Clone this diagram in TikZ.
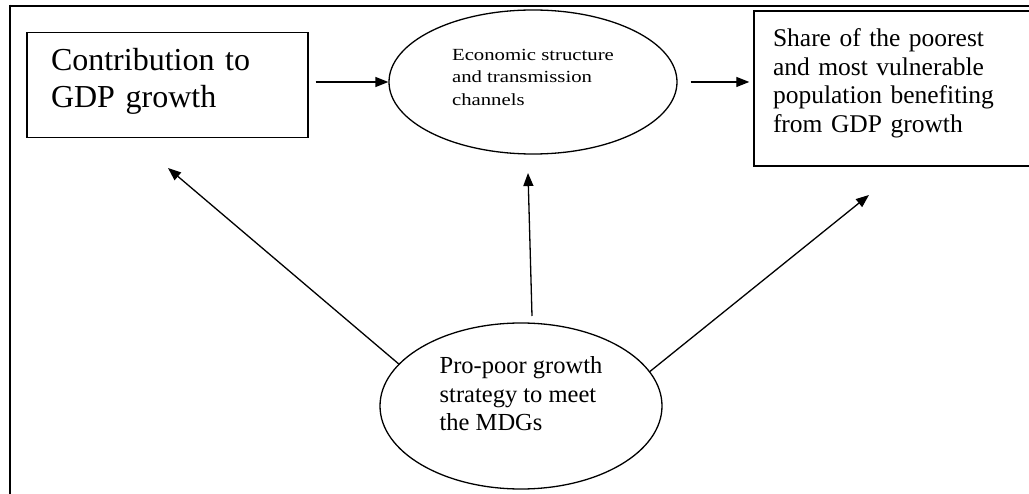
\documentclass[tikz,border=0pt]{standalone}
\usepackage{fontspec}
\setmainfont{Liberation Serif}
\newfontfamily\wideserif[FakeStretch=1.22]{Liberation Serif}
\usetikzlibrary{shapes.geometric,arrows.meta}
\begin{document}
\begin{tikzpicture}[x=1pt,y=-1pt,
  boxnode/.style={draw,line width=1.4pt,rectangle,inner ysep=0pt,align=left},
  ellnode/.style={draw,line width=1.3pt,ellipse,inner sep=0pt,align=left},
  arr/.style={line width=1.3pt,-{Triangle[length=13pt,width=10pt]}},
  frameline/.style={line width=2.8pt}]
\useasboundingbox (0,0) rectangle (1029,494);
\begin{scope}
\clip (0,0) rectangle (1029,494);
% frame
\draw[frameline] (9,6) -- (1040,6);
\draw[frameline] (10,4.6) -- (10,500);
% nodes
\node[boxnode,minimum width=281pt,minimum height=105pt,text width=233pt,inner xsep=24pt,
  text depth=52pt,font=\fontsize{32}{37}\selectfont] (lbox) at (167.5,85) {Contribution to\\GDP growth};
\node[ellnode,minimum width=288pt,minimum height=144pt,text depth=10pt,
  font=\wideserif\fontsize{17}{22.5}\selectfont] (e1) at (533,82)
  {Economic structure\\and transmission\\channels};
\node[boxnode,minimum width=278pt,minimum height=155pt,text width=240pt,inner xsep=19pt,
  text depth=101pt,font=\fontsize{25.5}{28.5}\selectfont] (rbox) at (893,88.5)
  {Share of the poorest\\and most vulnerable\\population benefiting\\from GDP growth};
\node[ellnode,minimum width=282pt,minimum height=166pt,text depth=24pt,
  font=\fontsize{24.5}{28.5}\selectfont] (e2) at (521,406)
  {Pro-poor growth\\strategy to meet\\the MDGs};
% connectors
\coordinate (t1) at (168,168);
\coordinate (s2) at (532,316);
\coordinate (t2) at (528,173);
\coordinate (t3) at (869,195);
\draw[arr,shorten <=7pt] (lbox.east |- e1.west) -- (e1.west);
\draw[arr,shorten <=13pt,shorten >=4pt] (e1.east) -- (e1.east -| rbox.west);
\draw[arr] (e2.161) -- (t1);
\draw[arr] (s2) -- (t2);
\draw[arr] (e2.15) -- (t3);
\end{scope}
\end{tikzpicture}
\end{document}
